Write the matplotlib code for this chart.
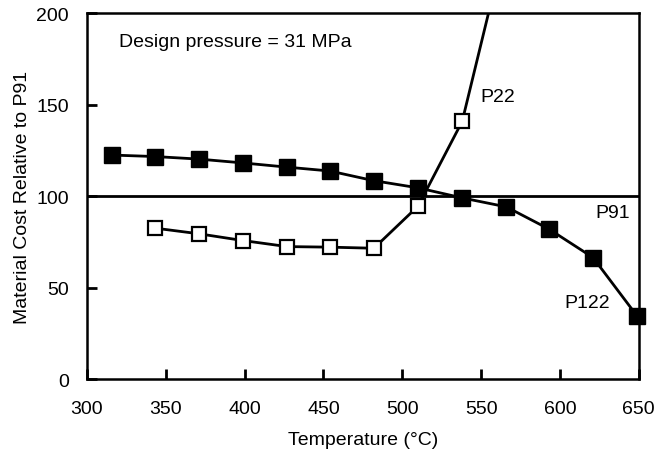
import matplotlib.pyplot as plt

plt.rcParams['font.family'] = ['Liberation Sans', 'DejaVu Sans']

# P122 cost relative to P91
p122_temp = [316, 343, 371, 399, 427, 454, 482, 510, 538, 566, 593, 621, 649]
p122_cost = [122.4, 121.6, 120.2, 118.1, 115.8, 113.7, 108.4, 104.5, 99.0, 94.1, 82.0, 66.4, 34.4]

# P22 cost relative to P91 (last point runs off the top of the axes)
p22_temp = [343, 371, 399, 427, 454, 482, 510, 538, 566]
p22_cost = [82.5, 79.4, 75.7, 72.4, 72.1, 71.5, 94.5, 140.8, 240.0]

# P91 reference level
p91_level = 100

x_ticks = [300, 350, 400, 450, 500, 550, 600, 650]
y_ticks = [0, 50, 100, 150, 200]

fs = 14

fig = plt.figure(figsize=(6.64, 4.52), dpi=100)
ax = fig.add_axes([0.131, 0.159, 0.831, 0.810])

ax.axhline(p91_level, color='black', lw=2.0, zorder=2)
ax.plot(p22_temp, p22_cost, color='black', lw=2.0, marker='s', ms=9.5,
        mfc='white', mec='black', mew=1.6, zorder=3, clip_on=True)
ax.plot(p122_temp, p122_cost, color='black', lw=2.0, marker='s', ms=11,
        mfc='black', mec='black', zorder=4, clip_on=False)

ax.set_xlim(300, 650)
ax.set_ylim(0, 200)
ax.set_xticks(x_ticks)
ax.set_yticks(y_ticks)

for side in ['top', 'right', 'bottom', 'left']:
    ax.spines[side].set_linewidth(1.8)

ax.tick_params(axis='both', direction='in', length=7, width=2, labelsize=fs)
ax.tick_params(axis='x', pad=15)
ax.tick_params(axis='y', pad=13)

ax.set_xlabel('Temperature (°C)', fontsize=fs, labelpad=10)
ax.set_ylabel('Material Cost Relative to P91', fontsize=fs, labelpad=4)

ax.text(320.3, 184.7, 'Design pressure = 31 MPa', fontsize=fs, va='center', ha='left')
ax.text(549.5, 154.6, 'P22', fontsize=fs, va='center', ha='left')
ax.text(322.5 + 300, 90.8, 'P91', fontsize=fs, va='center', ha='left')
ax.text(303.0 + 300, 41.7, 'P122', fontsize=fs, va='center', ha='left')

fig.savefig('out.png', dpi=100)
